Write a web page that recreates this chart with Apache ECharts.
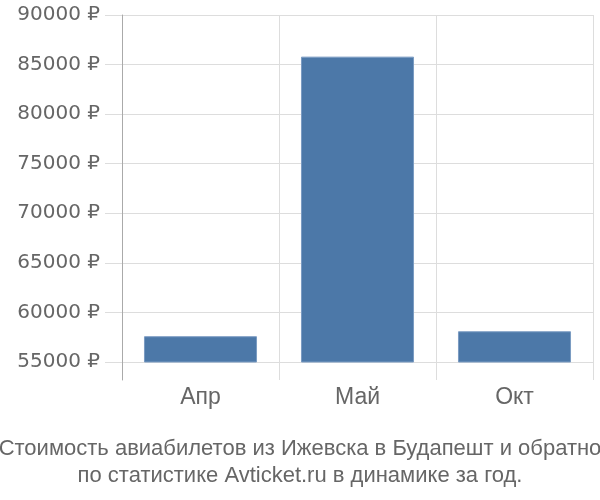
<!DOCTYPE html>
<html><head><meta charset="utf-8">
<script src="https://cdn.jsdelivr.net/npm/echarts@6/dist/echarts.min.js"></script>
<style>html,body{margin:0;padding:0;background:#fff}#c{width:600px;height:500px}</style>
</head><body><div id="c"></div>
<script>
var categories = ['Апр', 'Май', 'Окт'];
var prices = [57600, 85800, 58100];
var yMin = 55000, yMax = 90000, yStep = 5000;
var titleLines = ['Стоимость авиабилетов из Ижевска в Будапешт и обратно', 'по статистике Avticket.ru в динамике за год.'];

var chart = echarts.init(document.getElementById('c'), null, {renderer: 'canvas'});
var font = 'Liberation Sans, Arial, sans-serif';
chart.setOption({
  animation: false,
  title: {
    text: titleLines.join('\n'), left: 'center', top: 430,
    textStyle: {fontFamily: font, fontSize: 22, fontWeight: 'normal', color: '#666', lineHeight: 27}
  },
  grid: [
    {left: 122, right: 7, top: 15, bottom: 138},
    {left: 122, right: 7, top: 15, bottom: 120}
  ],
  xAxis: [
    {gridIndex: 0, type: 'category', data: categories, show: false},
    {gridIndex: 1, type: 'category', data: categories,
     axisLine: {show: false}, axisTick: {show: false},
     splitLine: {show: true, lineStyle: {color: '#ddd', width: 1}},
     axisLabel: {fontFamily: font, fontSize: 23, color: '#666', margin: 6}}
  ],
  yAxis: [
    {gridIndex: 0, type: 'value', min: yMin, max: yMax, interval: yStep,
     axisLine: {show: false},
     axisTick: {show: true, length: 17, lineStyle: {color: '#ddd'}},
     splitLine: {show: true, lineStyle: {color: '#ddd', width: 1}},
     axisLabel: {fontFamily: 'DejaVu Sans, sans-serif', fontSize: 20, color: '#666', margin: 22,
       formatter: function (v) { return v + ' ₽'; }}},
    {gridIndex: 1, type: 'value', min: 0, max: 1,
     axisLine: {show: true, lineStyle: {color: '#aaa', width: 1}},
     axisTick: {show: false}, axisLabel: {show: false}, splitLine: {show: false}}
  ],
  series: [{
    type: 'bar', xAxisIndex: 0, yAxisIndex: 0, data: prices,
    barCategoryGap: '28%',
    itemStyle: {color: '#4c78a8', borderColor: '#7b9cc3', borderWidth: 1}
  }]
});
</script></body></html>
